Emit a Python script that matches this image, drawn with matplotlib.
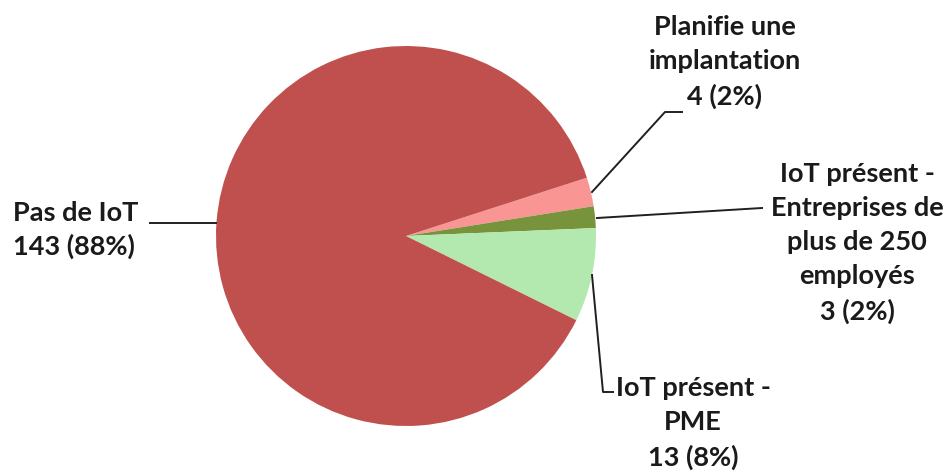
import matplotlib
matplotlib.use("Agg")
import matplotlib.pyplot as plt

# Survey answers: IoT adoption among companies
labels = ["Planifie une\nimplantation",
          "IoT présent -\nEntreprises de\nplus de 250\nemployés",
          "IoT présent -\nPME",
          "Pas de IoT"]
counts = [4, 3, 13, 143]
colors = ["#F99694", "#77933C", "#B3E9AE", "#C0504D"]

W, H = 953, 475
total = sum(counts)

def pct_text(n):
    return "%d (%d%%)" % (n, round(100.0 * n / total))

def Y(y):
    # pixel row (top-down) -> axis coordinate (bottom-up)
    return H - y

plt.rcParams['font.family'] = ['Lato', 'DejaVu Sans']

fig = plt.figure(figsize=(W / 100, H / 100), dpi=100)
ax = fig.add_axes([0, 0, 1, 1])

# slices start at the pink one and run clockwise
start = 360.0 * (counts[0] + counts[1]) / total + 2.4
ax.pie(counts, colors=colors, startangle=start, counterclock=False,
       center=(406, Y(236)), radius=190, frame=True,
       wedgeprops=dict(linewidth=0))

ax.set_xlim(0, W)
ax.set_ylim(0, H)
ax.set_aspect('auto')
ax.axis('off')

fs = 19.5
tc = "#1a1a1a"
lc = "#202020"
lw = 1.4
txt = dict(fontsize=fs, color=tc, fontweight='bold')

# Pas de IoT
ax.text(13, Y(230), labels[3] + "\n" + pct_text(counts[3]), ha='left', va='center',
        linespacing=1.4, **txt)
ax.plot([150, 216], [Y(223), Y(223)], color=lc, lw=lw)

# Planifie une implantation
ax.text(725, Y(62), labels[0] + "\n" + pct_text(counts[0]), ha='center', va='center',
        linespacing=1.5, **txt)
ax.plot([592, 665, 682], [Y(192), Y(112), Y(112)], color=lc, lw=lw)

# IoT - large companies
ax.text(857, Y(243), labels[1] + "\n" + pct_text(counts[1]), ha='center', va='center',
        linespacing=1.5, **txt)
ax.plot([597, 762], [Y(218), Y(208)], color=lc, lw=lw)

# IoT - PME
ax.text(693, Y(423), labels[2] + "\n" + pct_text(counts[2]), ha='center', va='center',
        linespacing=1.5, **txt)
ax.plot([592, 603, 613], [Y(275), Y(392), Y(392)], color=lc, lw=lw)

fig.savefig("out.png", dpi=100)
